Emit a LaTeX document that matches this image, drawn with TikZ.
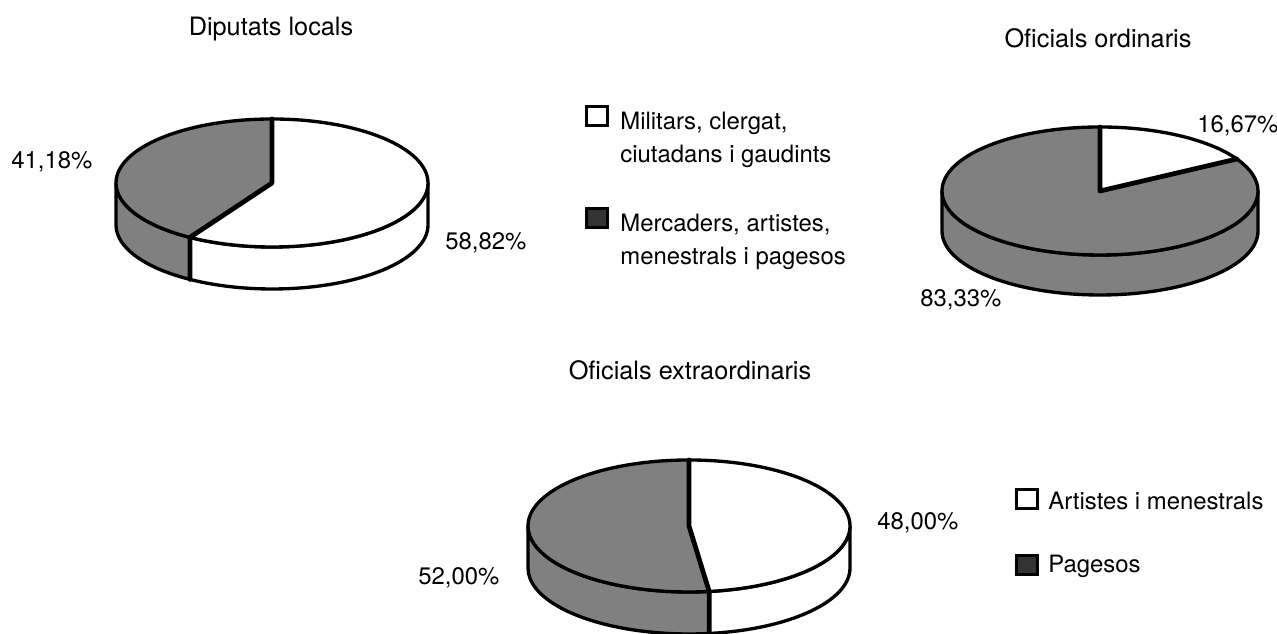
\documentclass[tikz,border=0pt]{standalone}
\usepackage{fontspec}
\setmainfont{TeX Gyre Heros}
\tikzset{
    rim/.style={line width=1.9pt, line join=round},
    spoke/.style={line width=2.7pt, line cap=round, line join=round},
    shaded/.style={fill=black!50},
    blank/.style={fill=white},
    keybox/.style={draw, line width=1.8pt, minimum width=0.42cm, minimum height=0.38cm, inner sep=0pt},
    keytext/.style={font=\fontsize{13.6}{16}\selectfont, inner sep=0pt, anchor=base west},
    pct/.style={font=\fontsize{13.6}{16}\selectfont, inner sep=0pt, anchor=base west},
    heading/.style={font=\fontsize{14.4}{17}\selectfont, inner sep=0pt, anchor=base},
}
\begin{document}
\begin{tikzpicture}[x=0.02cm, y=0.02cm]
    \useasboundingbox (0,0) rectangle (1277,634);

    % Diputats locals
    \begin{scope}[shift={(272,451)}, x radius=156, y radius=64]
        \filldraw[rim, shaded] (180:156 and 64) arc[start angle=180, end angle=238.24] -- ++(0,-42) arc[start angle=238.24, end angle=180] -- cycle;
        \filldraw[rim, blank] (238.24:156 and 64) arc[start angle=238.24, end angle=360] -- ++(0,-42) arc[start angle=360, end angle=238.24] -- cycle;
        \filldraw[rim, blank] (0,0) -- (90:156 and 64) arc[start angle=90, end angle=-121.76] -- cycle;
        \filldraw[rim, shaded] (0,0) -- (90:156 and 64) arc[start angle=90, end angle=238.24] -- cycle;
        \draw[spoke] (90:156 and 64) -- (0,0) -- (238.24:156 and 64) -- ++(0,-42);
    \end{scope}
    \node[heading] (dipTitle) at (271,598) {Diputats locals};
    \node[pct] (dipGray) at (11,465) {41,18\%};
    \node[pct] (dipWhite) at (445,384) {58,82\%};

    % Oficials ordinaris
    \begin{scope}[shift={(1100,443)}, x radius=158, y radius=64]
        \filldraw[rim, shaded] (180:158 and 64) arc[start angle=180, end angle=360] -- ++(0,-40) arc[start angle=360, end angle=180] -- cycle;
        \filldraw[rim, shaded] (0,0) -- (90:158 and 64) arc[start angle=90, end angle=390] -- cycle;
        \filldraw[rim, blank] (0,0) -- (30:158 and 64) arc[start angle=30, end angle=90] -- cycle;
        \draw[spoke] (90:158 and 64) -- (0,0) -- (30:158 and 64);
    \end{scope}
    \node[heading] (ordTitle) at (1098,586) {Oficials ordinaris};
    \node[pct] (ordWhite) at (1197,501) {16,67\%};
    \node[pct] (ordGray) at (920,327) {83,33\%};

    % Oficials extraordinaris
    \begin{scope}[shift={(689,108)}, x radius=161, y radius=66]
        \filldraw[rim, shaded] (180:161 and 66) arc[start angle=180, end angle=277.2] -- ++(0,-42) arc[start angle=277.2, end angle=180] -- cycle;
        \filldraw[rim, blank] (277.2:161 and 66) arc[start angle=277.2, end angle=360] -- ++(0,-42) arc[start angle=360, end angle=277.2] -- cycle;
        \filldraw[rim, blank] (0,0) -- (90:161 and 66) arc[start angle=90, end angle=-82.8] -- cycle;
        \filldraw[rim, shaded] (0,0) -- (90:161 and 66) arc[start angle=90, end angle=277.2] -- cycle;
        \draw[spoke] (90:161 and 66) -- (0,0) -- (277.2:161 and 66) -- ++(0,-42);
    \end{scope}
    \node[heading] (extTitle) at (690,254) {Oficials extraordinaris};
    \node[pct] (extWhite) at (877,104) {48,00\%};
    \node[pct] (extGray) at (418,49) {52,00\%};

    % legends
    \node[keybox, fill=white] (keyMil) at (597,518) {};
    \node[keytext] (txtMilA) at (620,504) {Militars, clergat,};
    \node[keytext] (txtMilB) at (620,471) {ciutadans i gaudints};
    \node[keybox, fill=black!80] (keyMer) at (597,416) {};
    \node[keytext] (txtMerA) at (620,402) {Mercaders, artistes,};
    \node[keytext] (txtMerB) at (620,369) {menestrals i pagesos};

    \node[keybox, fill=white] (keyArt) at (1027,135) {};
    \node[keytext] (txtArt) at (1048,124) {Artistes i menestrals};
    \node[keybox, fill=black!80] (keyPag) at (1027,69) {};
    \node[keytext] (txtPag) at (1048,61) {Pagesos};
\end{tikzpicture}
\end{document}
